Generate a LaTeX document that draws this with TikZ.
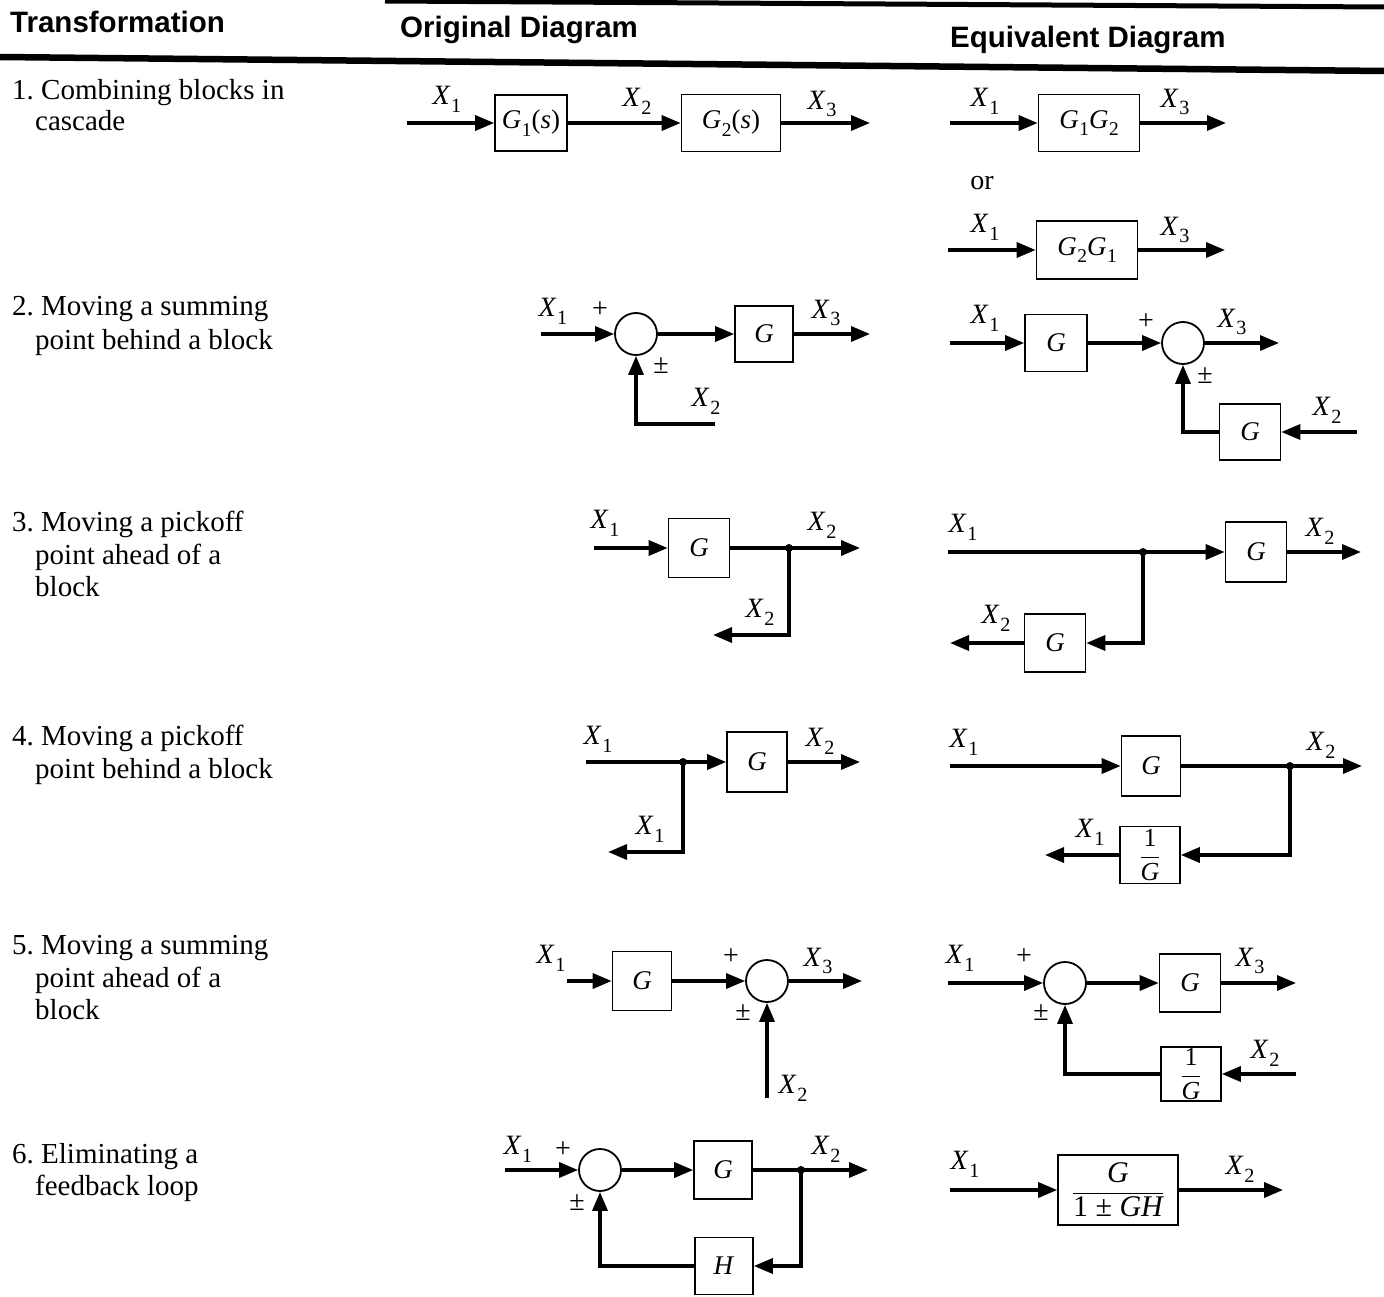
\documentclass[tikz,border=0pt]{standalone}
\usepackage{amsmath}
\usepackage{fontspec}
\setmainfont{Liberation Serif}
\setsansfont{Liberation Sans}
\usetikzlibrary{arrows.meta}
\newcommand\sv[2]{\textit{#1}\kern0.02em\raisebox{-0.28em}{\scalebox{0.72}{#2}}}
\newcommand\onebyg{$\dfrac{\mbox{1}}{\mbox{\itshape G}}$}
\begin{document}
\begin{tikzpicture}[x=1pt,y=-1pt,
  blk/.style={draw, line width=1.6pt, inner sep=0pt, font=\fontsize{27}{30}\selectfont},
  fblk/.style={draw, line width=1.6pt, inner sep=0pt, font=\fontsize{26}{28}\selectfont},
  sumc/.style={circle, draw, line width=1.8pt, minimum size=42pt, inner sep=0pt},
  wire/.style={line width=3.4pt},
  arr/.style={line width=3.4pt, -{Triangle[length=19pt,width=15pt]}},
  lbl/.style={inner sep=0pt, font=\fontsize{28}{30}\selectfont},
  sgn/.style={inner sep=0pt, font=\fontsize{28}{30}\selectfont},
  txt/.style={inner sep=0pt, anchor=base west, font=\fontsize{29}{32}\selectfont},
  hd/.style={inner sep=0pt, anchor=west, font=\sffamily\bfseries\fontsize{29.5}{32}\selectfont},
  pdot/.style={circle, fill, inner sep=0pt, minimum size=8pt}]
\fill[white] (0,0) rectangle (1384,1297);
\useasboundingbox (0,0) rectangle (1384,1297);
% header
\draw[line width=5pt] (385,1) -- (1384,7);
\draw[line width=6.5pt] (0,57) -- (1384,71);
\node[hd] (h1) at (10,22) {Transformation};
\node[hd] (h2) at (400,30) {Original Diagram};
\node[hd] (h3) at (950,40) {Equivalent Diagram};
% left column
\node[txt] (t1a) at (12,100) {1.\ Combining blocks in};
\node[txt] (t1b) at (35,131) {cascade};
\node[txt] (t2a) at (12,316) {2.\ Moving a summing};
\node[txt] (t2b) at (35,349) {point behind a block};
\node[txt] (t3a) at (12,531) {3.\ Moving a pickoff};
\node[txt] (t3b) at (35,564) {point ahead of a};
\node[txt] (t3c) at (35,596) {block};
\node[txt] (t4a) at (12,745) {4.\ Moving a pickoff};
\node[txt] (t4b) at (35,778) {point behind a block};
\node[txt] (t5a) at (12,954) {5.\ Moving a summing};
\node[txt] (t5b) at (35,987) {point ahead of a};
\node[txt] (t5c) at (35,1019) {block};
\node[txt] (t6a) at (12,1163) {6.\ Eliminating a};
\node[txt] (t6b) at (35,1195) {feedback loop};
% ---------- row 1 original
\coordinate (r1i) at (407,123);
\node[blk, minimum width=72pt, minimum height=56pt] (g11) at (531,123) {\sv{G}{1}(\textit{s})};
\node[blk, minimum width=99pt, minimum height=57pt] (g12) at (731,123) {\sv{G}{2}(\textit{s})};
\coordinate (r1o) at (870,123);
\draw[arr] (r1i) -- (g11.west);
\draw[arr] (g11.east) -- (g12.west);
\draw[arr] (g12.east) -- (r1o);
\node[lbl] (l1a) at (447,99) {\sv{X}{1}};
\node[lbl] (l1b) at (637,101) {\sv{X}{2}};
\node[lbl] (l1c) at (822,104) {\sv{X}{3}};
% ---------- row 1 equivalent
\coordinate (q1ai) at (950,123);
\node[blk, minimum width=101pt, minimum height=57pt] (q1a) at (1089,123) {\sv{G}{1}\sv{G}{2}};
\coordinate (q1ao) at (1226,123);
\draw[arr] (q1ai) -- (q1a.west);
\draw[arr] (q1a.east) -- (q1ao);
\node[lbl] (m1a) at (985,101) {\sv{X}{1}};
\node[lbl] (m1b) at (1175,102) {\sv{X}{3}};
\node[sgn] (or1) at (982,183) {or};
\coordinate (q1bi) at (948,250);
\node[blk, minimum width=101pt, minimum height=58pt] (q1b) at (1087,250) {\sv{G}{2}\sv{G}{1}};
\coordinate (q1bo) at (1225,250);
\draw[arr] (q1bi) -- (q1b.west);
\draw[arr] (q1b.east) -- (q1bo);
\node[lbl] (m1c) at (985,227) {\sv{X}{1}};
\node[lbl] (m1d) at (1175,230) {\sv{X}{3}};
% ---------- row 2 original
\coordinate (r2i) at (541,334);
\node[sumc] (s2) at (636,334) {};
\node[blk, minimum width=58pt, minimum height=56pt] (g2) at (764,334) {\textit{G}};
\coordinate (r2o) at (870,334);
\coordinate (r2f) at (715,424);
\draw[arr] (r2i) -- (s2.west);
\draw[arr] (s2.east) -- (g2.west);
\draw[arr] (g2.east) -- (r2o);
\draw[arr] (r2f) -| (s2.south);
\node[lbl] (l2a) at (553,311) {\sv{X}{1}};
\node[sgn] (p2a) at (600,310) {+};
\node[sgn] (p2b) at (661,366) {±};
\node[lbl] (l2b) at (826,313) {\sv{X}{3}};
\node[lbl] (l2c) at (706,401) {\sv{X}{2}};
% ---------- row 2 equivalent
\coordinate (q2i) at (950,343);
\node[blk, minimum width=62pt, minimum height=57pt] (q2g) at (1056,343) {\textit{G}};
\node[sumc] (q2s) at (1183,343) {};
\coordinate (q2o) at (1279,343);
\node[blk, minimum width=61pt, minimum height=56pt] (q2h) at (1250,432) {\textit{G}};
\coordinate (q2f) at (1357,432);
\draw[arr] (q2i) -- (q2g.west);
\draw[arr] (q2g.east) -- (q2s.west);
\draw[arr] (q2s.east) -- (q2o);
\draw[arr] (q2f) -- (q2h.east);
\draw[arr] (q2h.west) -| (q2s.south);
\node[lbl] (m2a) at (985,318) {\sv{X}{1}};
\node[sgn] (n2a) at (1146,322) {+};
\node[lbl] (m2b) at (1232,322) {\sv{X}{3}};
\node[sgn] (n2b) at (1205,376) {±};
\node[lbl] (m2c) at (1327,410) {\sv{X}{2}};
% ---------- row 3 original
\coordinate (r3i) at (594,548);
\node[blk, minimum width=61pt, minimum height=59pt] (g3) at (699,548) {\textit{G}};
\node[pdot] (d3) at (789,548) {};
\coordinate (r3o) at (860,548);
\coordinate (r3b) at (713,635);
\draw[arr] (r3i) -- (g3.west);
\draw[wire] (g3.east) -- (d3.center);
\draw[arr] (d3.center) -- (r3o);
\draw[arr] (d3.center) |- (r3b);
\node[lbl] (l3a) at (605,523) {\sv{X}{1}};
\node[lbl] (l3b) at (822,525) {\sv{X}{2}};
\node[lbl] (l3c) at (760,612) {\sv{X}{2}};
% ---------- row 3 equivalent
\coordinate (q3i) at (948,552);
\node[pdot] (q3d) at (1143,552) {};
\node[blk, minimum width=61pt, minimum height=60pt] (q3g) at (1256,552) {\textit{G}};
\coordinate (q3o) at (1361,552);
\node[blk, minimum width=61pt, minimum height=58pt] (q3h) at (1055,643) {\textit{G}};
\coordinate (q3b) at (950,643);
\draw[wire] (q3i) -- (q3d.center);
\draw[arr] (q3d.center) -- (q3g.west);
\draw[arr] (q3g.east) -- (q3o);
\draw[arr] (q3d.center) |- (q3h.east);
\draw[arr] (q3h.west) -- (q3b);
\node[lbl] (m3a) at (963,527) {\sv{X}{1}};
\node[lbl] (m3b) at (1320,531) {\sv{X}{2}};
\node[lbl] (m3c) at (996,618) {\sv{X}{2}};
% ---------- row 4 original
\coordinate (r4i) at (586,762);
\node[pdot] (d4) at (683,762) {};
\node[blk, minimum width=60pt, minimum height=60pt] (g4) at (757,762) {\textit{G}};
\coordinate (r4o) at (860,762);
\coordinate (r4b) at (608,852);
\draw[wire] (r4i) -- (d4.center);
\draw[arr] (d4.center) -- (g4.west);
\draw[arr] (g4.east) -- (r4o);
\draw[arr] (d4.center) |- (r4b);
\node[lbl] (l4a) at (598,739) {\sv{X}{1}};
\node[lbl] (l4b) at (820,741) {\sv{X}{2}};
\node[lbl] (l4c) at (650,829) {\sv{X}{1}};
% ---------- row 4 equivalent
\coordinate (q4i) at (950,766);
\node[blk, minimum width=59pt, minimum height=60pt] (q4g) at (1151,766) {\textit{G}};
\node[pdot] (q4d) at (1290,766) {};
\coordinate (q4o) at (1362,766);
\node[fblk, minimum width=60pt, minimum height=57pt] (q4h) at (1150,855) {\onebyg};
\coordinate (q4b) at (1045,855);
\draw[arr] (q4i) -- (q4g.west);
\draw[wire] (q4g.east) -- (q4d.center);
\draw[arr] (q4d.center) -- (q4o);
\draw[arr] (q4d.center) |- (q4h.east);
\draw[arr] (q4h.west) -- (q4b);
\node[lbl] (m4a) at (964,742) {\sv{X}{1}};
\node[lbl] (m4b) at (1321,745) {\sv{X}{2}};
\node[lbl] (m4c) at (1090,832) {\sv{X}{1}};
% ---------- row 5 original
\coordinate (r5i) at (567,981);
\node[blk, minimum width=59pt, minimum height=59pt] (g5) at (642,981) {\textit{G}};
\node[sumc] (s5) at (767,981) {};
\coordinate (r5o) at (862,981);
\coordinate (r5f) at (767,1098);
\draw[arr] (r5i) -- (g5.west);
\draw[arr] (g5.east) -- (s5.west);
\draw[arr] (s5.east) -- (r5o);
\draw[arr] (r5f) -- (s5.south);
\node[lbl] (l5a) at (551,958) {\sv{X}{1}};
\node[sgn] (p5a) at (731,957) {+};
\node[lbl] (l5b) at (818,961) {\sv{X}{3}};
\node[sgn] (p5b) at (743,1013) {±};
\node[lbl] (l5c) at (793,1088) {\sv{X}{2}};
% ---------- row 5 equivalent
\coordinate (q5i) at (948,983);
\node[sumc] (q5s) at (1065,983) {};
\node[blk, minimum width=61pt, minimum height=58pt] (q5g) at (1190,983) {\textit{G}};
\coordinate (q5o) at (1296,983);
\node[fblk, minimum width=60pt, minimum height=54pt] (q5h) at (1191,1074) {\onebyg};
\coordinate (q5f) at (1296,1074);
\draw[arr] (q5i) -- (q5s.west);
\draw[arr] (q5s.east) -- (q5g.west);
\draw[arr] (q5g.east) -- (q5o);
\draw[arr] (q5f) -- (q5h.east);
\draw[arr] (q5h.west) -| (q5s.south);
\node[lbl] (m5a) at (960,958) {\sv{X}{1}};
\node[sgn] (n5a) at (1024,957) {+};
\node[lbl] (m5b) at (1250,961) {\sv{X}{3}};
\node[sgn] (n5b) at (1041,1013) {±};
\node[lbl] (m5c) at (1265,1053) {\sv{X}{2}};
% ---------- row 6 original
\coordinate (r6i) at (505,1170);
\node[sumc] (s6) at (600,1170) {};
\node[blk, minimum width=58pt, minimum height=58pt] (g6) at (723,1170) {\textit{G}};
\node[pdot] (d6) at (801,1170) {};
\coordinate (r6o) at (868,1170);
\node[blk, minimum width=58pt, minimum height=57pt] (h6) at (724,1266) {\textit{H}};
\draw[arr] (r6i) -- (s6.west);
\draw[arr] (s6.east) -- (g6.west);
\draw[wire] (g6.east) -- (d6.center);
\draw[arr] (d6.center) -- (r6o);
\draw[arr] (d6.center) |- (h6.east);
\draw[arr] (h6.west) -| (s6.south);
\node[lbl] (l6a) at (518,1149) {\sv{X}{1}};
\node[sgn] (p6a) at (563,1150) {+};
\node[lbl] (l6b) at (826,1149) {\sv{X}{2}};
\node[sgn] (p6b) at (577,1203) {±};
% ---------- row 6 equivalent
\coordinate (q6i) at (950,1190);
\node[blk, minimum width=120pt, minimum height=70pt, font=\fontsize{30}{33}\selectfont] (q6g) at (1118,1190) {$\dfrac{\mbox{\itshape G}}{\mbox{1 ± \itshape GH}}$};
\coordinate (q6o) at (1283,1190);
\draw[arr] (q6i) -- (q6g.west);
\draw[arr] (q6g.east) -- (q6o);
\node[lbl] (m6a) at (965,1164) {\sv{X}{1}};
\node[lbl] (m6b) at (1240,1169) {\sv{X}{2}};
\end{tikzpicture}
\end{document}
